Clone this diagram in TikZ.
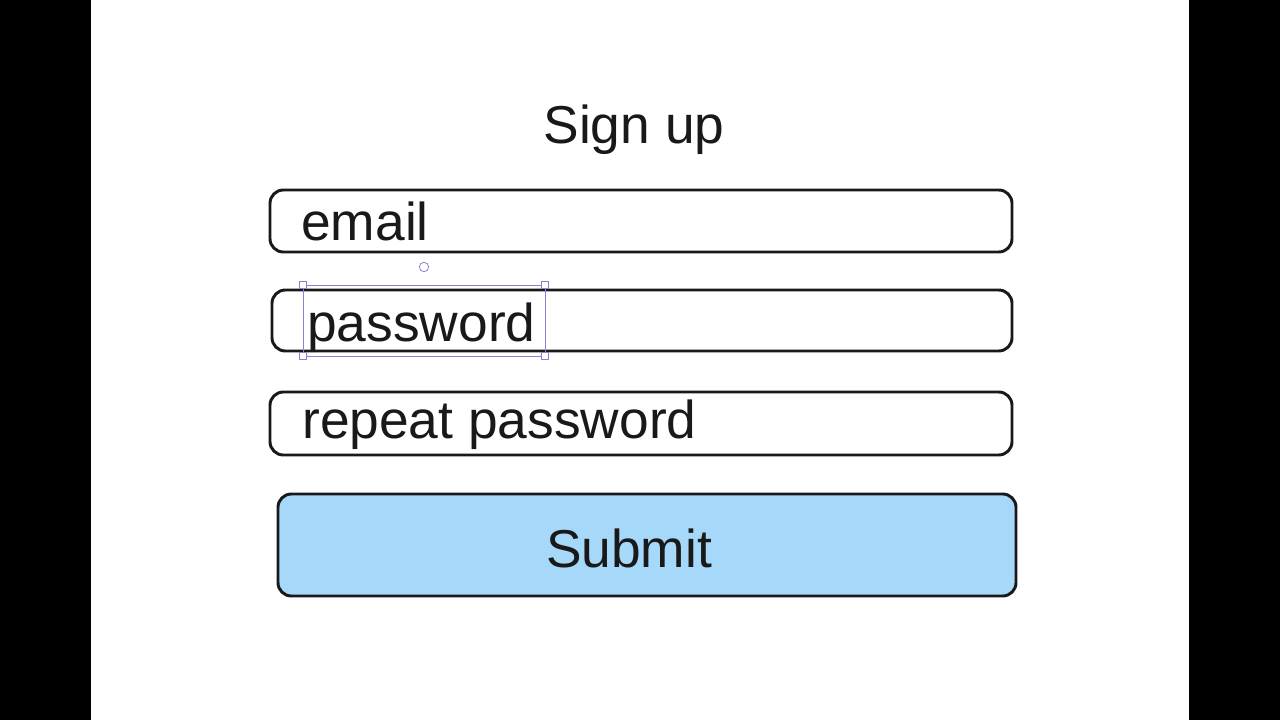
\documentclass[tikz,border=0pt]{standalone}
\usepackage{fontspec}
\setmainfont{Liberation Sans}
\usepackage{xcolor}
\definecolor{btnblue}{RGB}{166,216,250}
\definecolor{selpurple}{RGB}{138,128,216}
\begin{document}
\begin{tikzpicture}[x=0.75pt,y=0.75pt,yscale=-1,xscale=1,
  field/.style={draw=black!90,line width=2.2pt,rounded corners=10pt},
  label/.style={anchor=base west,inner sep=0pt,font=\fontsize{40}{48}\selectfont,text=black!90},
  handle/.style={draw=selpurple,fill=white,line width=0.6pt,minimum size=5.5pt,inner sep=0pt}]
%background and side bars
\fill [black] (0,0) rectangle (1280,720) ;
\fill [white] (91,0) rectangle (1189,720) ;
%title
\node [font=\fontsize{40}{48}\selectfont,text=black!90] (title) at (634,130) {Sign up};
%input fields
\draw [field] (270,190) rectangle (1012,252) ;
\node [label] (email) at (301,241) {email};
\draw [field] (272,290) rectangle (1012,351) ;
\node [label] (password) at (307,341) {password};
\draw [field] (270,392) rectangle (1012,455) ;
\node [label] (repeat) at (302,438) {repeat password};
%button
\draw [field,fill=btnblue] (278,494) rectangle (1016,596) ;
\node [font=\fontsize{40}{48}\selectfont,text=black!90] (submit) at (629,548) {Submit};
%selection frame
\draw [selpurple,line width=0.6pt] (303,285) rectangle (545,356) ;
\foreach \hx/\hy in {303/285,545/285,303/356,545/356}
  \node [handle] at (\hx,\hy) {};
\node [handle,circle,minimum size=7pt] (rot) at (424,267) {};
\end{tikzpicture}
\end{document}
